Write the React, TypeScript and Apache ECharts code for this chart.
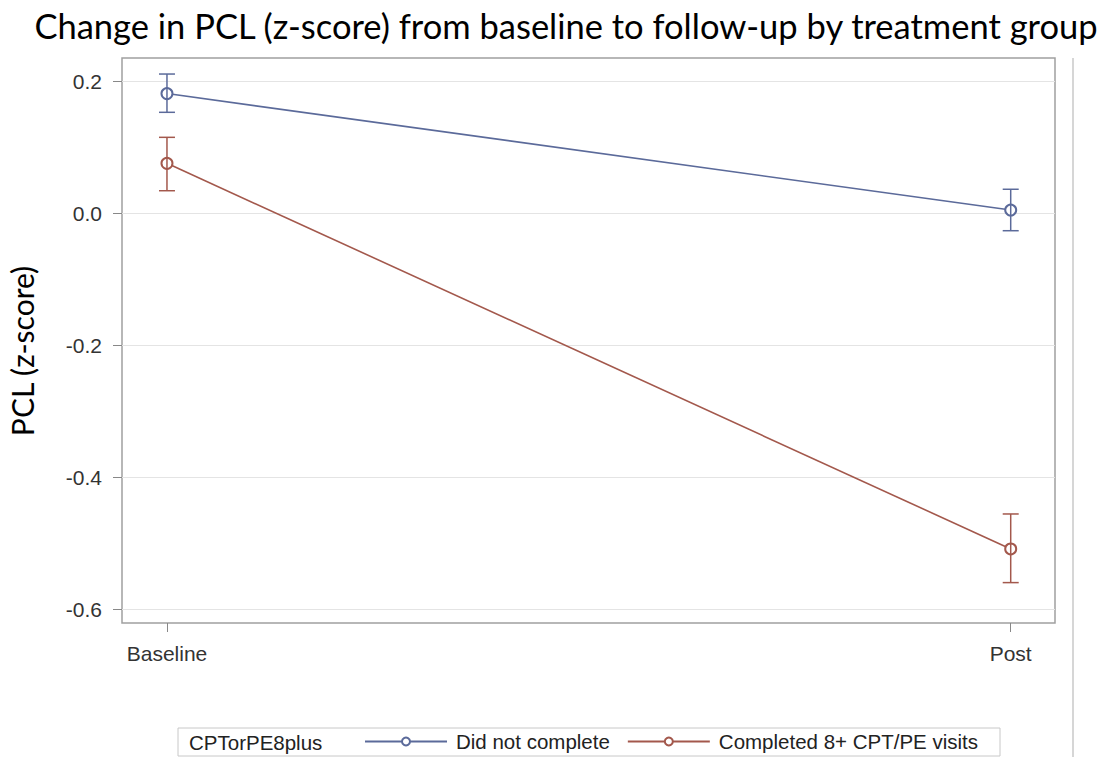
import React, { useEffect, useRef } from "react";
import * as echarts from "echarts";

const timepoints = ["Baseline", "Post"];
const timeX = [0, 1];
const groups = ["Did not complete", "Completed 8+ CPT/PE visits"];
const meanNotComplete = [0.181, 0.0045];
const lowerNotComplete = [0.1526, -0.0268];
const upperNotComplete = [0.2106, 0.036];
const meanCompleted = [0.0753, -0.509];
const lowerCompleted = [0.0338, -0.56];
const upperCompleted = [0.1147, -0.456];
const yTicks = [-0.6, -0.4, -0.2, 0.0, 0.2];

const BLUE = "#5b6a9a";
const RED = "#a3584c";

export default function App() {
  const ref = useRef<HTMLDivElement>(null);
  useEffect(() => {
    if (!ref.current) return;
    const chart = echarts.init(ref.current, undefined, { renderer: "svg" });

    const errData = (lo: number[], hi: number[]) =>
      timeX.map((x, i) => [x, lo[i], hi[i]]);

    const errSeries = (name: string, lo: number[], hi: number[], color: string) => ({
      type: "custom",
      name: name + " CI",
      z: 5,
      silent: true,
      data: errData(lo, hi),
      encode: { x: 0, y: [1, 2] },
      renderItem: (params: any, api: any) => {
        const x = api.value(0);
        const pLo = api.coord([x, api.value(1)]);
        const pHi = api.coord([x, api.value(2)]);
        const cap = 8;
        const style = { stroke: color, lineWidth: 1.5, fill: "none" };
        return {
          type: "group",
          children: [
            { type: "line", shape: { x1: pLo[0], y1: pLo[1], x2: pHi[0], y2: pHi[1] }, style },
            { type: "line", shape: { x1: pLo[0] - cap, y1: pLo[1], x2: pLo[0] + cap, y2: pLo[1] }, style },
            { type: "line", shape: { x1: pHi[0] - cap, y1: pHi[1], x2: pHi[0] + cap, y2: pHi[1] }, style },
          ],
        };
      },
    });

    const lineSeries = (name: string, vals: number[], color: string, extra: any = {}) => ({
      type: "line",
      name,
      z: 3,
      data: timeX.map((x, i) => [x, vals[i]]),
      symbol: "emptyCircle",
      symbolSize: 11,
      lineStyle: { color, width: 1.6 },
      itemStyle: { color, borderColor: color, borderWidth: 1.5 },
      ...extra,
    });

    chart.setOption({
      animation: false,
      backgroundColor: "#ffffff",
      grid: {
        left: 122,
        right: 50,
        top: 58,
        bottom: 134,
        show: true,
        borderColor: "#a0a0a0",
        borderWidth: 1.5,
        backgroundColor: "transparent",
      },
      legend: {
        left: 364,
        top: 731,
        data: groups,
        itemWidth: 82,
        itemHeight: 10,
        itemGap: 17,
        padding: 0,
        textStyle: {
          fontFamily: "Liberation Sans",
          fontSize: 20.5,
          color: "#222",
          padding: [0, 0, 0, 4],
        },
      },
      xAxis: {
        type: "value",
        min: -0.0533,
        max: 1.0525,
        axisLine: { show: false, onZero: false },
        splitLine: { show: false },
        axisTick: {
          show: true,
          length: 9,
          customValues: timeX,
          lineStyle: { color: "#888", width: 1 },
        },
        axisLabel: {
          customValues: timeX,
          margin: 20,
          fontFamily: "Liberation Sans",
          fontSize: 21,
          color: "#333",
          formatter: (v: number) => {
            const i = timeX.indexOf(Math.round(v));
            return i >= 0 ? timepoints[i] : "";
          },
        },
      },
      yAxis: {
        type: "value",
        min: -0.6212,
        max: 0.2349,
        axisLine: { show: false, onZero: false },
        splitLine: { show: false },
        axisTick: {
          show: true,
          length: 9,
          customValues: yTicks,
          lineStyle: { color: "#888", width: 1 },
        },
        axisLabel: {
          customValues: yTicks,
          margin: 20,
          fontFamily: "Liberation Sans",
          fontSize: 21,
          color: "#333",
          formatter: (v: number) => v.toFixed(1),
        },
      },
      graphic: [
        {
          type: "text",
          x: 566,
          y: 25,
          style: {
            text: "Change in PCL (z-score) from baseline to follow-up by treatment group",
            font: "34.5px Lato",
            fill: "#000",
            align: "center",
            verticalAlign: "middle",
          },
        },
        {
          type: "text",
          x: 22,
          y: 351,
          rotation: Math.PI / 2,
          style: {
            text: "PCL (z-score)",
            font: "30px Lato",
            fill: "#000",
            align: "center",
            verticalAlign: "middle",
          },
        },
        {
          type: "line",
          shape: { x1: 1073, y1: 58, x2: 1073, y2: 757 },
          style: { stroke: "#c8c8c8", lineWidth: 1.5 },
        },
        {
          type: "rect",
          shape: { x: 178, y: 728, width: 822, height: 28 },
          style: { fill: "none", stroke: "#c8c8c8", lineWidth: 1 },
        },
        {
          type: "text",
          x: 189,
          y: 742,
          style: {
            text: "CPTorPE8plus",
            font: "20.5px 'Liberation Sans'",
            fill: "#222",
            verticalAlign: "middle",
          },
        },
      ],
      series: [
        lineSeries(groups[0], meanNotComplete, BLUE, {
          markLine: {
            silent: true,
            symbol: "none",
            label: { show: false },
            lineStyle: { color: "#e4e4e4", width: 1, type: "solid" },
            z: 1,
            data: yTicks.map((v) => ({ yAxis: v })),
          },
        }),
        lineSeries(groups[1], meanCompleted, RED),
        errSeries(groups[0], lowerNotComplete, upperNotComplete, BLUE),
        errSeries(groups[1], lowerCompleted, upperCompleted, RED),
      ],
    });
    return () => chart.dispose();
  }, []);
  return <div ref={ref} style={{ width: 1105, height: 757, position: "absolute", left: 0, top: 0 }} />;
}
